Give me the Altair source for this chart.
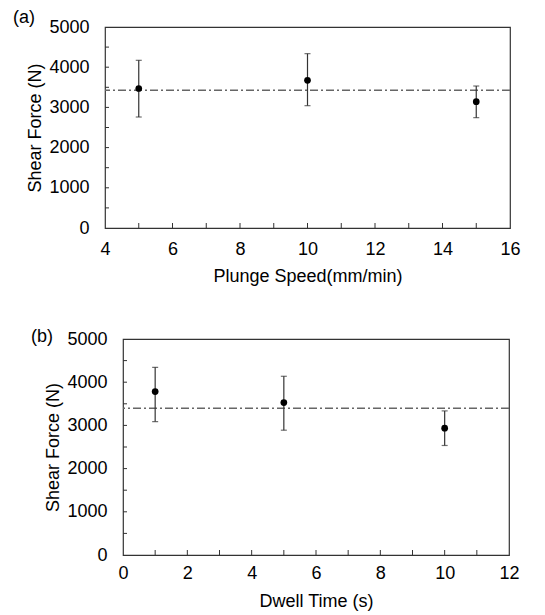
import altair as alt
import pandas as pd

# Panel (a): plunge speed
speed = [5, 10, 15]
speed_force = [3470, 3673, 3143]
speed_low = [2761, 3043, 2745]
speed_high = [4171, 4337, 3532]
speed_avg = [3425]

# Panel (b): dwell time
dwell = [1, 5, 10]
dwell_force = [3783, 3529, 2935]
dwell_low = [3089, 2889, 2535]
dwell_high = [4345, 4137, 3336]
dwell_avg = [3398]

y_ticks = [0, 1000, 2000, 3000, 4000, 5000]
y_minor = [500, 1000, 1500, 2000, 2500, 3000, 3500, 4000, 4500]
a_x_ticks = [4, 6, 8, 10, 12, 14, 16]
a_x_minor = [5, 6, 7, 8, 9, 10, 11, 12, 13, 14, 15]
b_x_ticks = [0, 2, 4, 6, 8, 10, 12]
b_x_minor = [1, 2, 3, 4, 5, 6, 7, 8, 9, 10, 11]

FONT = "Liberation Sans"
INK = "#333333"


def panel(x, force, low, high, avg, xdom, xvals, xminor, xtitle, tag, w, h,
          xlabpad, xtitlepad, ytitlepad, tag_dy):
    df = pd.DataFrame({"x": x, "f": force, "lo": low, "hi": high})
    xscale = alt.Scale(domain=xdom, nice=False, zero=False)
    yscale = alt.Scale(domain=[0, 5000], nice=False)
    xaxis = alt.Axis(title=xtitle, values=xvals, ticks=False, domain=False, grid=False,
                     labelPadding=xlabpad, titlePadding=xtitlepad, format="d",
                     labelFlush=False, labelOverlap=False)
    yaxis = alt.Axis(title="Shear Force (N)", values=y_ticks, ticks=False, domain=False,
                     grid=False, labelPadding=16, titlePadding=ytitlepad, format="d",
                     labelFlush=False, labelOverlap=False)
    base = alt.Chart(df)
    pts = base.mark_circle(size=45, color="black", opacity=1).encode(
        x=alt.X("x:Q", scale=xscale, axis=xaxis),
        y=alt.Y("f:Q", scale=yscale, axis=yaxis),
    )
    bars = base.mark_rule(color=INK, strokeWidth=1.2).encode(x="x:Q", y="lo:Q", y2="hi:Q")
    cap_lo = base.mark_tick(orient="horizontal", size=6, thickness=1.2, color=INK).encode(
        x="x:Q", y="lo:Q")
    cap_hi = base.mark_tick(orient="horizontal", size=6, thickness=1.2, color=INK).encode(
        x="x:Q", y="hi:Q")
    avg_line = alt.Chart(pd.DataFrame({"avg": avg})).mark_rule(
        color="#666666", strokeWidth=1.5, strokeDash=[8, 3, 2, 3]).encode(y="avg:Q")
    ymin = alt.Chart(pd.DataFrame({"v": y_minor})).mark_rule(color=INK, strokeWidth=1).encode(
        y="v:Q", x=alt.value(0), x2=alt.value(4))
    xmin = alt.Chart(pd.DataFrame({"v": xminor})).mark_rule(color=INK, strokeWidth=1).encode(
        x="v:Q", y=alt.value(h), y2=alt.value(h - 5))
    tag_text = alt.Chart(pd.DataFrame({"t": [tag]})).mark_text(
        align="left", baseline="middle", font=FONT, fontSize=18, color="black").encode(
        text="t:N", x=alt.value(-92), y=alt.value(tag_dy))
    return alt.layer(avg_line, bars, cap_lo, cap_hi, pts, ymin, xmin, tag_text).properties(
        width=w, height=h)


def spacer(w):
    return alt.Chart(pd.DataFrame({"s": [0]})).mark_point(opacity=0, size=0).encode(
        x=alt.value(0), y=alt.value(0)).properties(
        width=w, height=1, view=alt.ViewBackground(stroke=None))


pa = panel(speed, speed_force, speed_low, speed_high, speed_avg, [4, 16], a_x_ticks,
           a_x_minor, "Plunge Speed(mm/min)", "(a)", 405, 201, 12.7, 9, 4, -9)
pb = panel(dwell, dwell_force, dwell_low, dwell_high, dwell_avg, [0, 12], b_x_ticks,
           b_x_minor, "Dwell Time (s)", "(b)", 386, 216, 9.7, 10, 4, -2)

chart = alt.vconcat(
    alt.hconcat(spacer(4), pa, spacing=0),
    alt.hconcat(spacer(22), pb, spacing=0),
    spacing=40,
).properties(padding=0).configure_view(stroke=INK, strokeWidth=1.2).configure_axis(
    labelFont=FONT, titleFont=FONT, labelFontSize=18, titleFontSize=18,
    labelColor="black", titleColor="black", titleFontWeight="normal")

chart.save("out.html", embed_options={"renderer": "svg", "actions": False})
